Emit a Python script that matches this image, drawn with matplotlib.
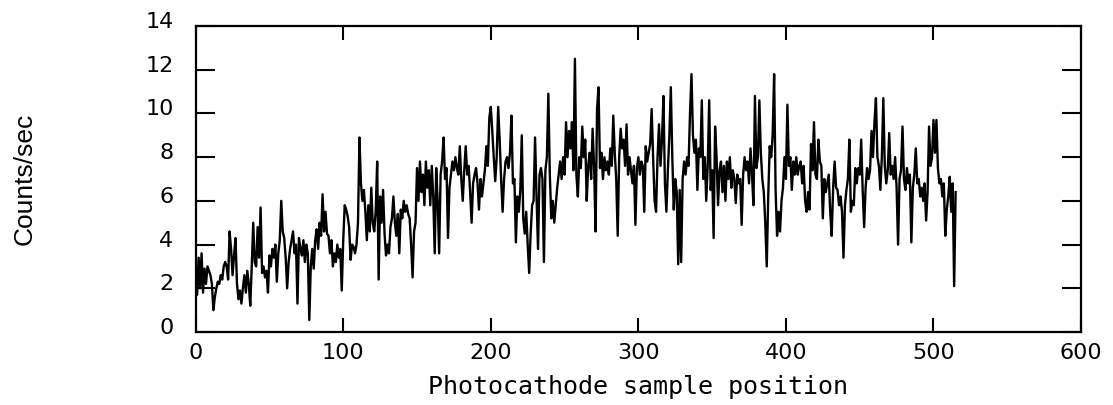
import matplotlib
matplotlib.use("Agg")
import matplotlib.pyplot as plt
import matplotlib.transforms as mtransforms
import numpy as np

counts = [
    2.8, 1.7, 3.4, 2.0, 3.6, 1.8, 2.9, 2.2, 3.0, 2.8,
    2.6, 2.2, 1.0, 1.6, 2.0, 2.3, 2.2, 2.6, 2.4, 3.0,
    3.2, 3.0, 2.4, 4.6, 3.8, 2.6, 3.5, 4.3, 2.2, 1.5,
    1.9, 1.3, 2.0, 2.6, 1.8, 2.8, 2.2, 1.2, 3.0, 5.0,
    3.2, 3.0, 4.8, 3.4, 5.7, 2.7, 3.0, 2.5, 2.8, 1.8,
    3.5, 3.0, 3.8, 3.4, 4.0, 2.3, 3.6, 4.2, 6.0, 4.6,
    4.3, 3.4, 2.0, 3.2, 3.8, 4.2, 4.6, 3.6, 4.0, 1.3,
    4.3, 3.8, 3.5, 4.2, 3.2, 4.0, 3.6, 0.55, 3.0, 3.8,
    2.9, 4.2, 4.7, 3.8, 5.0, 4.4, 6.3, 4.6, 5.5, 4.5,
    4.4, 3.6, 4.2, 3.0, 3.6, 3.2, 4.0, 3.4, 3.8, 1.9,
    4.2, 5.8, 5.6, 5.3, 4.8, 3.3, 4.0, 3.9, 3.6, 4.0,
    5.0, 8.9, 6.8, 6.0, 6.5, 5.5, 4.2, 5.8, 4.6, 6.6,
    5.0, 4.6, 5.5, 7.8, 2.4, 6.2, 5.0, 6.5, 4.5, 3.5,
    4.0, 3.6, 4.8, 5.2, 6.2, 5.0, 4.4, 5.4, 3.6, 5.6,
    5.2, 6.0, 5.5, 5.8, 5.4, 5.2, 4.0, 2.5, 4.6, 5.0,
    7.5, 6.0, 7.8, 6.4, 7.2, 5.8, 7.8, 6.6, 7.4, 5.8,
    7.6, 6.2, 3.6, 7.5, 6.0, 3.6, 7.2, 7.8, 8.9, 7.0,
    7.5, 4.3, 6.6, 7.2, 7.8, 7.4, 8.0, 7.5, 7.2, 8.5,
    7.0, 6.0, 7.4, 8.5, 7.2, 7.6, 6.4, 5.0, 6.8, 7.2,
    7.5, 6.8, 5.6, 7.0, 6.2, 6.8, 7.4, 8.5, 7.6, 9.8,
    10.3, 9.2, 8.0, 6.9, 8.0, 10.3, 8.8, 7.0, 5.5, 7.0,
    7.8, 8.0, 7.5, 8.2, 9.9, 6.8, 7.0, 4.1, 6.2, 5.5,
    6.5, 9.0, 5.2, 4.5, 5.5, 4.0, 2.7, 4.5, 5.8, 6.0,
    8.9, 6.2, 3.8, 7.2, 7.5, 7.0, 3.2, 7.4, 8.0, 10.9,
    7.2, 5.2, 6.0, 5.0, 5.8, 6.6, 7.2, 7.8, 7.0, 8.0,
    7.2, 9.6, 8.0, 9.2, 8.4, 9.6, 7.4, 12.5, 7.2, 6.2,
    8.0, 7.5, 9.4, 8.0, 8.8, 6.0, 7.6, 8.2, 7.0, 9.3,
    7.6, 4.6, 10.2, 11.2, 7.5, 8.2, 7.0, 8.0, 7.4, 7.8,
    7.2, 8.4, 7.6, 9.9, 8.2, 7.0, 4.4, 8.0, 9.3, 8.4,
    8.8, 7.6, 9.5, 7.2, 8.0, 7.4, 6.8, 7.6, 4.9, 7.5,
    8.0, 7.2, 7.8, 7.6, 5.5, 8.5, 7.8, 8.2, 8.6, 10.2,
    8.0, 6.0, 5.5, 8.0, 9.5, 7.6, 8.8, 10.8, 6.8, 5.5,
    7.4, 9.0, 11.2, 8.0, 5.6, 7.0, 6.4, 3.1, 6.5, 3.2,
    7.0, 7.8, 7.2, 8.0, 7.6, 10.0, 11.8, 9.0, 8.2, 8.8,
    6.5, 8.4, 8.0, 10.6, 7.0, 8.0, 6.0, 7.6, 10.6, 6.5,
    7.4, 4.3, 9.4, 8.0, 5.8, 7.4, 7.8, 6.4, 7.6, 6.0,
    7.8, 7.0, 8.0, 6.6, 7.4, 7.0, 5.9, 7.2, 6.8, 7.0,
    4.9, 7.2, 8.0, 7.4, 7.8, 6.8, 8.4, 7.2, 5.8, 10.8,
    7.5, 8.0, 10.6, 8.2, 7.0, 6.4, 5.0, 3.0, 6.2, 8.5,
    8.0, 9.0, 11.8, 6.5, 4.4, 5.5, 4.6, 6.0, 6.6, 8.0,
    7.0, 10.4, 7.6, 8.0, 6.5, 7.8, 7.2, 8.0, 7.2, 7.6,
    7.8, 6.8, 7.6, 6.0, 5.5, 6.4, 5.6, 8.6, 7.4, 9.6,
    7.2, 7.0, 8.8, 7.8, 7.6, 5.2, 7.0, 6.4, 6.8, 7.2,
    5.5, 4.4, 6.6, 7.8, 6.6, 6.5, 5.8, 6.2, 5.5, 3.4,
    5.8, 6.5, 7.0, 8.8, 5.5, 6.0, 5.8, 7.5, 6.8, 7.5,
    7.2, 8.8, 6.5, 4.8, 6.6, 7.5, 7.0, 7.4, 9.2, 8.0,
    9.6, 10.7, 8.0, 7.6, 6.5, 8.0, 10.7, 7.6, 6.8, 7.4,
    9.1, 7.2, 7.6, 7.0, 8.0, 6.6, 4.0, 7.0, 7.4, 9.4,
    7.0, 6.5, 7.5, 6.8, 7.2, 4.1, 6.6, 7.2, 8.4, 6.8,
    7.0, 6.2, 6.6, 6.0, 6.8, 5.1, 6.4, 9.4, 7.6, 8.0,
    9.7, 8.2, 9.7, 7.5, 6.8, 7.0, 6.2, 6.8, 4.4, 5.6,
    6.2, 7.1, 5.5, 6.8, 2.1, 6.4,
]
positions = np.arange(len(counts))

x_ticks = [0, 100, 200, 300, 400, 500, 600]
y_ticks = [0, 2, 4, 6, 8, 10, 12, 14]

fig = plt.figure(figsize=(11.13, 4.06), dpi=100)
ax = fig.add_axes([0.1758, 0.1798, 0.7955, 0.7537])
ax.plot(positions, counts, color="black", lw=1.7)

ax.set_xlim(0, 600)
ax.set_ylim(0, 14)
ax.set_xticks(x_ticks)
ax.set_yticks(y_ticks)
ax.set_xticklabels([str(v) for v in x_ticks], fontsize=16, family="DejaVu Sans")
ax.set_yticklabels([str(v) for v in y_ticks], fontsize=16, family="DejaVu Sans")
ax.tick_params(axis="y", direction="in", length=14, width=1.5, right=True, pad=16)
ax.tick_params(axis="x", direction="in", length=10, width=1.5, top=True, pad=7)
for s in ax.spines.values():
    s.set_linewidth(1.6)

# y tick labels sit slightly above their ticks in the reference
shift = mtransforms.ScaledTranslation(0, 0.07, fig.dpi_scale_trans)
for lbl in ax.get_yticklabels():
    lbl.set_transform(lbl.get_transform() + shift)

fig.text(0.573, 0.048, "Photocathode sample position", ha="center", va="center",
         fontsize=18, family="DejaVu Sans Mono")
fig.text(0.022, 0.559, "Counts/sec", ha="center", va="center", rotation=90,
         fontsize=19, family="Liberation Sans")

fig.savefig("out.png", dpi=100)
